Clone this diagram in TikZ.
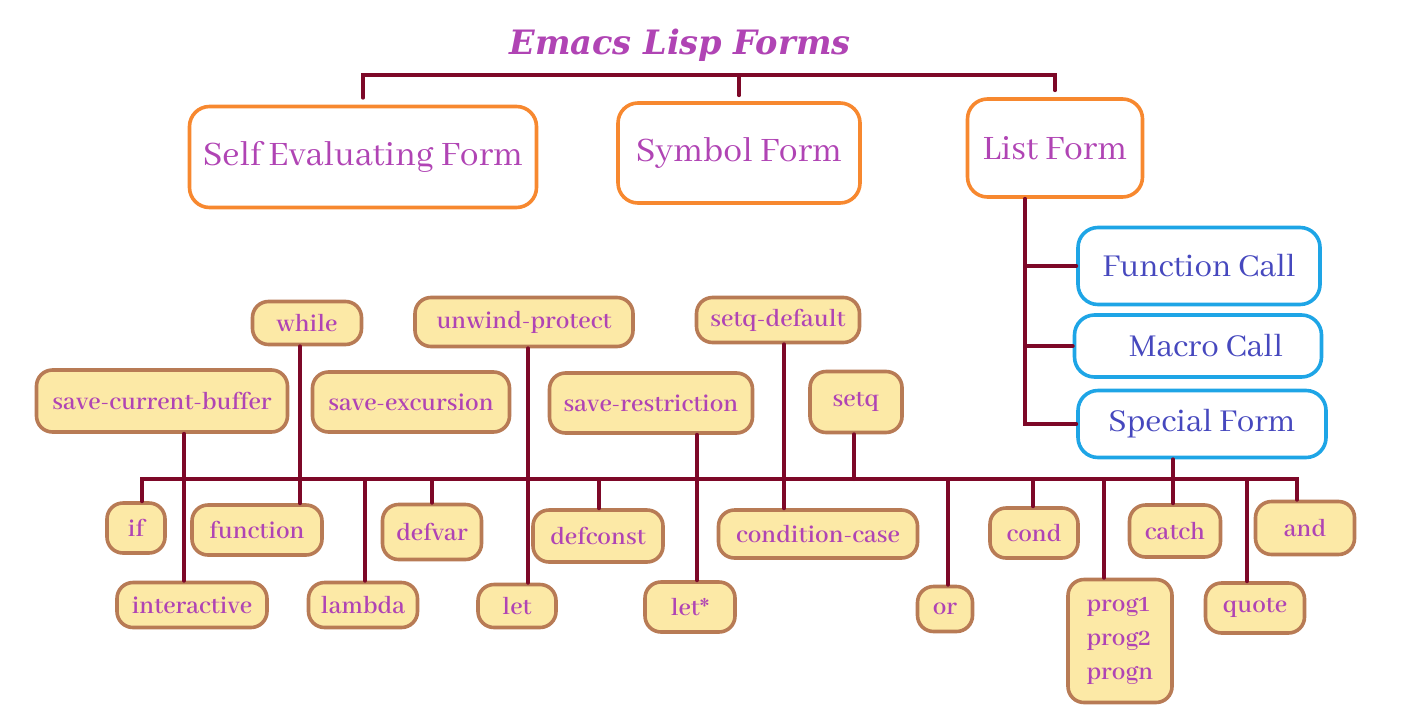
\documentclass[tikz,border=0pt]{standalone}
\usepackage{fontspec}
\setmainfont{Abhaya Libre}
\newfontfamily\titlefont{DejaVu Serif}
\usepackage{tikz}
\usetikzlibrary{positioning}

\definecolor{titlepurple}{RGB}{176,68,180}
\definecolor{formorange}{RGB}{247,136,47}
\definecolor{callblue}{RGB}{30,165,230}
\definecolor{callindigo}{RGB}{70,72,190}
\definecolor{kwfill}{RGB}{252,233,166}
\definecolor{kwbrown}{RGB}{184,123,85}
\definecolor{linkred}{RGB}{125,8,40}

\begin{document}
\begin{tikzpicture}[
x=0.5pt, y=-0.5pt,
formbox/.style={rectangle,
  rounded corners=10pt,
  draw=formorange,
  line width=1.8pt,
  text=titlepurple,
  inner sep=0pt,
  font=\fontsize{18.8}{22}\selectfont
},
callbox/.style={rectangle,
  rounded corners=10pt,
  draw=callblue,
  line width=1.8pt,
  text=callindigo,
  inner sep=0pt,
  font=\fontsize{17.5}{20}\selectfont
},
kwbox/.style={rectangle,
  rounded corners=8pt,
  fill=kwfill,
  draw=kwbrown,
  line width=1.8pt,
  text=titlepurple,
  inner sep=0pt,
  font=\fontsize{13.5}{17}\selectfont\bfseries
},
dims/.style 2 args={minimum width=#1*0.5pt, minimum height=#2*0.5pt},
link/.style={draw=linkred, line width=2pt, line cap=round}
]
\useasboundingbox (0,0) rectangle (1416,712);

\node[text=titlepurple, font=\titlefont\bfseries\itshape\fontsize{16.8}{20}\selectfont] (title)
    at (680,45) {Emacs Lisp Forms};

% top level forms
\node[formbox, dims={347}{101}] (self)
    at (363,157) {Self Evaluating Form};
\node[formbox, dims={242}{100}] (symbol)
    at (739,153) {Symbol Form};
\node[formbox, dims={175}{98}] (list)
    at (1055,148) {List Form};

% list forms
\node[callbox, dims={242}{77}] (func)
    at (1199,266) {Function Call};
\node[callbox, dims={247}{62}] (macro)
    at (1198,346) {\hspace{8pt}Macro Call};
\node[callbox, dims={248}{67}] (special)
    at (1202,424) {Special Form};

% special forms, above the bus
\node[kwbox, dims={109}{43}] (while)
    at (307,323) {while};
\node[kwbox, dims={218}{49}] (unwind)
    at (524,322) {unwind-protect};
\node[kwbox, dims={163}{45}] (setqdef)
    at (778,320) {setq-default};
\node[kwbox, dims={251}{62}] (scb)
    at (162,401) {save-current-buffer};
\node[kwbox, dims={197}{60}] (savex)
    at (411,402) {save-excursion};
\node[kwbox, dims={203}{60}] (saverestr)
    at (651,403) {save-restriction};
\node[kwbox, dims={92}{61}] (setq)
    at (856,402) {setq};

% special forms, below the bus
\node[kwbox, dims={58}{50}] (if)
    at (136,528) {if};
\node[kwbox, dims={130}{50}] (function)
    at (257,530) {function};
\node[kwbox, dims={99}{55}] (defvar)
    at (432,532) {defvar};
\node[kwbox, dims={130}{52}] (defconst)
    at (598,536) {defconst};
\node[kwbox, dims={199}{48}] (condcase)
    at (818,534) {condition-case};
\node[kwbox, dims={88}{50}] (cond)
    at (1034,533) {cond};
\node[kwbox, dims={91}{52}] (catch)
    at (1175,531) {catch};
\node[kwbox, dims={99}{53}] (and)
    at (1305,528) {and};
\node[kwbox, dims={150}{45}] (interactive)
    at (192,605) {interactive};
\node[kwbox, dims={109}{45}] (lambda)
    at (363,605) {lambda};
\node[kwbox, dims={78}{43}] (let)
    at (517,606) {let};
\node[kwbox, dims={90}{50}] (letstar)
    at (690,607) {let*};
\node[kwbox, dims={55}{45}] (or)
    at (945,609) {or};
\node[kwbox, dims={104}{123}, align=left] (prog)
    at (1120,641) {prog1\\prog2\\progn};
\node[kwbox, dims={99}{50}] (quote)
    at (1255,608) {quote};

% top tree
\coordinate (topbar) at (0,75);
\draw[link, shorten <=3.5pt, shorten >=3.5pt] (self.north) |- (topbar -| list.north) -- (list.north);
\draw[link, shorten >=3pt] (topbar -| symbol.north) -- (symbol.north);

% list form branches
\coordinate (listbar) at (1025,0);
\draw[link] (list.south -| listbar) |- (special.west);
\draw[link] (func.west -| listbar) -- (func.west);
\draw[link] (macro.west -| listbar) -- (macro.west);

% the bus
\coordinate (busL) at (142,479);
\coordinate (busR) at (1297,479);
\draw[link] (if.north -| busL) -- (busL) -- (busR) -- (and.north -| busR);

\foreach \top/\bot/\x in {while/function/300, scb/interactive/184, unwind/let/528,
    saverestr/letstar/697, setqdef/condcase/784, special/catch/1173}
  \draw[link] (\top.south -| \x,0) -- (\bot.north -| \x,0);

\foreach \bot/\x in {lambda/365, defvar/432, defconst/599, or/948, cond/1033,
    prog/1104, quote/1247}
  \draw[link] (\x,479) -- (\bot.north -| \x,0);

\draw[link] (setq.south -| 854,0) -- (854,479);
\end{tikzpicture}
\end{document}
